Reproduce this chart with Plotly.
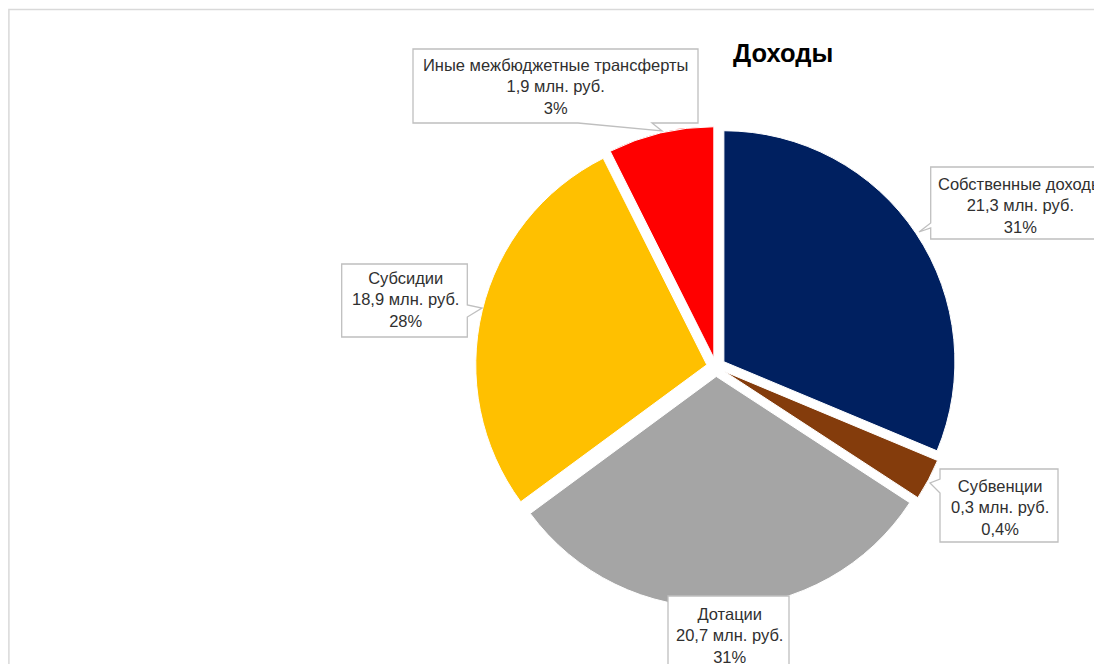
import plotly.graph_objects as go

W, H = 1102, 664
OFF = 8  # page body margin in the browser

# ---- data ----
categories = ["Собственные доходы", "Субвенции", "Дотации", "Субсидии",
              "Иные межбюджетные трансферты"]
slice_shares = [31.3, 2.9, 30.7, 27.7, 7.4]          # visual share of each slice, %
amounts_mln = ["21,3", "0,3", "20,7", "18,9", "1,9"]  # label amounts, млн. руб.
percent_labels = ["31%", "0,4%", "31%", "28%", "3%"]
colors = ["#002060", "#843C0C", "#A5A5A5", "#FFC000", "#FF0000"]
title_text = "Доходы"


def px(x):
    return (x - OFF) / W


def py(y):
    return 1 - (y - OFF) / H


fig = go.Figure(
    go.Pie(
        labels=categories,
        values=slice_shares,
        sort=False,
        direction="clockwise",
        rotation=0,
        pull=0.041,
        marker=dict(colors=colors, line=dict(color="white", width=1)),
        textinfo="none",
        hoverinfo="label+percent",
        showlegend=False,
        domain=dict(x=[px(475.5), px(956.5)], y=[py(607.5), py(126.5)]),
    )
)

# ---- callout layout (pixel geometry in the page) ----
callouts = [
    # box x0, y0, x1, y1, pointer side, base (a, b), tip (x, y), text centre (x, y)
    dict(box=(930.7, 167, 1125, 239), side="left", base=(223, 228), tip=(919, 232), text=(1020, 205)),
    dict(box=(940, 469, 1058, 542), side="left", base=(479, 493), tip=(930, 483), text=(1000, 507)),
    dict(box=(668, 596, 789, 700), side=None, base=None, tip=None, text=(729, 635)),
    dict(box=(341.7, 264, 467.3, 337), side="right", base=(305, 317), tip=(482, 308), text=(405, 300)),
    dict(box=(413, 49, 698, 123), side="bottom", base=(578, 652), tip=(662, 131), text=(555, 86)),
]


def P(x, y):
    return f"{px(x):.5f},{py(y):.5f}"


def callout_path(c):
    x0, y0, x1, y1 = c["box"]
    side = c["side"]
    pts = [(x0, y0), (x1, y0)]
    if side == "right":
        b0, b1 = c["base"]
        pts += [(x1, b0), c["tip"], (x1, b1)]
    pts.append((x1, y1))
    if side == "bottom":
        b0, b1 = c["base"]
        pts += [(b1, y1), c["tip"], (b0, y1)]
    pts.append((x0, y1))
    if side == "left":
        b0, b1 = c["base"]
        pts += [(x0, b1), c["tip"], (x0, b0)]
    return "M " + " L ".join(P(*p) for p in pts) + " Z"


shapes = [
    dict(type="rect", xref="paper", yref="paper",
         x0=px(8.9), y0=py(9.5), x1=px(1130), y1=py(700),
         line=dict(color="#D9D9D9", width=1.5), fillcolor="rgba(0,0,0,0)", layer="below"),
]
annotations = []
for cat, amt, pct, c in zip(categories, amounts_mln, percent_labels, callouts):
    shapes.append(dict(type="path", xref="paper", yref="paper", path=callout_path(c),
                       line=dict(color="#BFBFBF", width=1.3), fillcolor="white", layer="above"))
    annotations.append(dict(
        x=px(c["text"][0]), y=py(c["text"][1]), xref="paper", yref="paper",
        text=f"{cat}<br>{amt} млн. руб.<br>{pct}", showarrow=False,
        xanchor="center", yanchor="middle", align="center",
        font=dict(family="Liberation Sans, Arial, sans-serif", size=16.5, color="#303030"),
    ))

annotations.append(dict(
    x=px(783), y=py(53), xref="paper", yref="paper", text=f"<b>{title_text}</b>",
    showarrow=False, xanchor="center", yanchor="middle",
    font=dict(family="Liberation Sans, Arial, sans-serif", size=25.5, color="#000000"),
))

fig.update_layout(
    width=W, height=H,
    margin=dict(l=0, r=0, t=0, b=0),
    paper_bgcolor="white", plot_bgcolor="white",
    shapes=shapes, annotations=annotations,
)

fig.write_html("out.html")
